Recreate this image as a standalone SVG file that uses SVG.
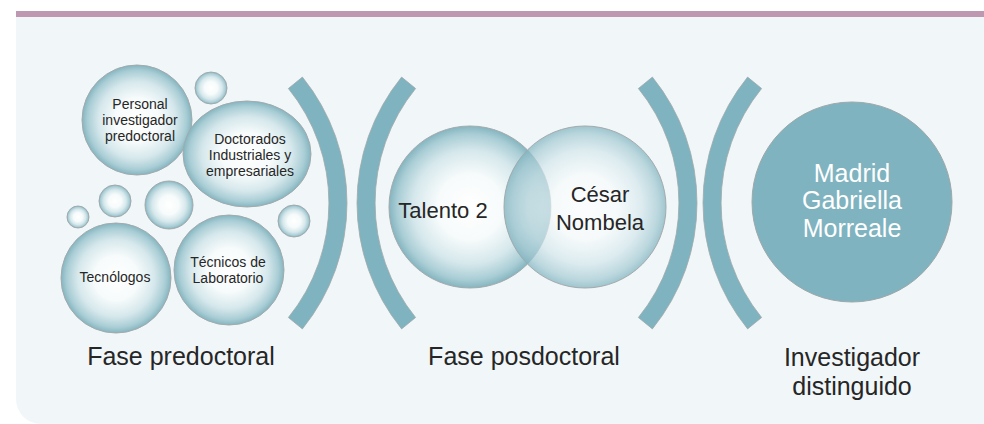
<svg xmlns="http://www.w3.org/2000/svg" width="984" height="424" viewBox="0 0 984 424">
<defs>
<radialGradient id="bub" cx="50%" cy="50%" r="50%">
<stop offset="0%" stop-color="#ffffff"/>
<stop offset="40%" stop-color="#f7fbfb"/>
<stop offset="70%" stop-color="#d6e8ec"/>
<stop offset="90%" stop-color="#a9cdd5"/>
<stop offset="100%" stop-color="#84b5c0"/>
</radialGradient>
<style>
.bub{fill:url(#bub);stroke:#a3aaac;stroke-width:1}
.arc{fill:#7fb3bf;stroke:#9fa9ab;stroke-width:0.8}
.t{font-family:"Liberation Sans",Arial,sans-serif;fill:#262626;text-anchor:middle}
.s{font-size:14px}
.m{font-size:22px}
.l{font-size:25px}
.w{fill:#ffffff}
</style>
</defs>
<rect x="0" y="0" width="984" height="424" fill="#ffffff"/>
<path d="M16,17 H984 V424 H41 A25,25 0 0 1 16,399 Z" fill="#f1f6f9"/>
<rect x="16" y="11" width="968" height="6" fill="#bd98b0"/>

<g id="separators">
<path class="arc" d="M302.4,77.1 A200,200 0 0 1 302.4,328.9 L288.4,317.5 A182,182 0 0 0 288.4,88.5 Z"/>
<path class="arc" d="M401.6,77.1 A200,200 0 0 0 401.6,328.9 L415.6,317.5 A182,182 0 0 1 415.6,88.5 Z"/>
<path class="arc" d="M652.4,77.1 A200,200 0 0 1 652.4,328.9 L638.4,317.5 A182,182 0 0 0 638.4,88.5 Z"/>
<path class="arc" d="M747.6,77.1 A200,200 0 0 0 747.6,328.9 L761.6,317.5 A182,182 0 0 1 761.6,88.5 Z"/>
</g>

<g id="small-bubbles">
<circle class="bub" cx="211" cy="88" r="16"/>
<circle class="bub" cx="78" cy="217" r="11"/>
<circle class="bub" cx="115" cy="201" r="16"/>
<circle class="bub" cx="169" cy="205" r="24"/>
<circle class="bub" cx="294" cy="221" r="16"/>
</g>

<g id="personal">
<circle class="bub" cx="137" cy="120" r="55"/>
<text class="t s" x="140" y="109">Personal</text>
<text class="t s" x="140" y="125">investigador</text>
<text class="t s" x="140" y="141">predoctoral</text>
</g>

<g id="doctorados">
<ellipse class="bub" cx="247" cy="154" rx="64" ry="53"/>
<text class="t s" x="250" y="144">Doctorados</text>
<text class="t s" x="250" y="160">Industriales y</text>
<text class="t s" x="250" y="176">empresariales</text>
</g>

<g id="tecnologos">
<circle class="bub" cx="116" cy="278" r="55"/>
<text class="t s" x="115" y="282">Tecnólogos</text>
</g>

<g id="tecnicos">
<circle class="bub" cx="229" cy="270" r="55"/>
<text class="t s" x="228" y="267">Técnicos de</text>
<text class="t s" x="228" y="283">Laboratorio</text>
</g>

<g id="talento2">
<circle class="bub" cx="470" cy="207" r="81"/>
</g>
<g id="cesar-nombela">
<circle class="bub" cx="585" cy="207" r="81" fill-opacity="0.75"/>
</g>
<g id="venn-overlap">
<path d="M527.5,150 A81,81 0 0 1 527.5,264 A81,81 0 0 1 527.5,150 Z" fill="#7fb3bf" fill-opacity="0.22"/>
</g>
<g id="venn-labels">
<text class="t m" x="443" y="218">Talento 2</text>
<text class="t m" x="600" y="202">César</text>
<text class="t m" x="600" y="230">Nombela</text>
</g>

<g id="madrid">
<circle cx="852" cy="202" r="100" fill="#7fb3bf" stroke="#9fa7a9" stroke-width="1"/>
<text class="t l w" x="852" y="182">Madrid</text>
<text class="t l w" x="852" y="209">Gabriella</text>
<text class="t l w" x="852" y="237">Morreale</text>
</g>

<g id="phase-labels">
<text class="t l" x="181" y="365">Fase predoctoral</text>
<text class="t l" x="524" y="365">Fase posdoctoral</text>
<text class="t l" x="852" y="366">Investigador</text>
<text class="t l" x="852" y="395">distinguido</text>
</g>
</svg>
